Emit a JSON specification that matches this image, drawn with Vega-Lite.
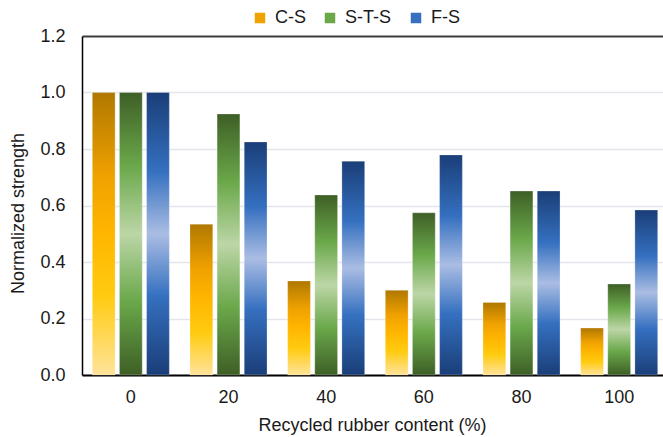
{
  "$schema": "https://vega.github.io/schema/vega-lite/v6.json",
  "autosize": {"type": "none"},
  "padding": {"left": 82, "top": 36, "right": 0, "bottom": 62},
  "width": 581,
  "height": 339,
  "background": "#ffffff",
  "config": {
    "font": "Liberation Sans",
    "view": {"stroke": null},
    "axis": {
      "labelFont": "Liberation Sans",
      "titleFont": "Liberation Sans",
      "labelFontSize": 18,
      "titleFontSize": 18,
      "labelColor": "#1a1a1a",
      "titleColor": "#1a1a1a",
      "titleFontWeight": "normal",
      "ticks": false,
      "tickSize": 0
    },
    "legend": {
      "labelFont": "Liberation Sans",
      "labelFontSize": 18,
      "labelColor": "#1a1a1a"
    }
  },
  "data": {
    "values": [
      {"content": 0, "series": "C-S", "strength": 1.0},
      {"content": 0, "series": "S-T-S", "strength": 1.0},
      {"content": 0, "series": "F-S", "strength": 1.0},
      {"content": 20, "series": "C-S", "strength": 0.534},
      {"content": 20, "series": "S-T-S", "strength": 0.924},
      {"content": 20, "series": "F-S", "strength": 0.825},
      {"content": 40, "series": "C-S", "strength": 0.333},
      {"content": 40, "series": "S-T-S", "strength": 0.637},
      {"content": 40, "series": "F-S", "strength": 0.757},
      {"content": 60, "series": "C-S", "strength": 0.300},
      {"content": 60, "series": "S-T-S", "strength": 0.574},
      {"content": 60, "series": "F-S", "strength": 0.779},
      {"content": 80, "series": "C-S", "strength": 0.257},
      {"content": 80, "series": "S-T-S", "strength": 0.651},
      {"content": 80, "series": "F-S", "strength": 0.651},
      {"content": 100, "series": "C-S", "strength": 0.166},
      {"content": 100, "series": "S-T-S", "strength": 0.322},
      {"content": 100, "series": "F-S", "strength": 0.584}
    ]
  },
  "encoding": {
    "x": {
      "field": "content",
      "type": "ordinal",
      "scale": {"range": [0, 586], "paddingInner": 0.2, "paddingOuter": 0.1},
      "axis": {
        "title": "Recycled rubber content (%)",
        "labelAngle": 0,
        "labelPadding": 13,
        "domainColor": "#000000",
        "domainWidth": 2,
        "titleBaseline": "alphabetic",
        "titleY": 55,
        "titleX": 290
      }
    },
    "xOffset": {
      "field": "series",
      "type": "nominal",
      "scale": {"domain": ["C-S", "S-T-S", "F-S"], "paddingInner": 0.16, "paddingOuter": 0.02}
    },
    "y": {
      "field": "strength",
      "type": "quantitative",
      "scale": {"domain": [0, 1.2], "nice": false},
      "axis": {
        "title": "Normalized strength",
        "values": [0, 0.2, 0.4, 0.6, 0.8, 1.0, 1.2],
        "format": ".1f",
        "labelPadding": 17,
        "domainColor": "#000000",
        "domainWidth": 1.5,
        "grid": true,
        "gridColor": {"condition": {"test": "datum.value > 1.19", "value": "#3c3c3c"}, "value": "#e3e5ea"},
        "gridWidth": {"condition": {"test": "datum.value > 1.19", "value": 2}, "value": 1.5},
        "titleAngle": -90,
        "titleAlign": "center",
        "titleBaseline": "alphabetic",
        "titleX": -59,
        "titleY": 177
      }
    }
  },
  "layer": [
    {
      "transform": [{"filter": "datum.series === 'C-S'"}],
      "mark": {
        "type": "bar",
        "stroke": "#ffffff", "strokeOpacity": 0.25, "strokeWidth": 1,
        "fill": {"gradient": "linear", "x1": 0, "y1": 0, "x2": 0, "y2": 1, "stops": [
          {"offset": 0, "color": "#b07800"},
          {"offset": 0.3, "color": "#f0a200"},
          {"offset": 0.5, "color": "#ffb600"},
          {"offset": 0.72, "color": "#ffcb10"},
          {"offset": 1, "color": "#ffe39a"}
        ]}
      }
    },
    {
      "transform": [{"filter": "datum.series === 'S-T-S'"}],
      "mark": {
        "type": "bar",
        "stroke": "#ffffff", "strokeOpacity": 0.25, "strokeWidth": 1,
        "fill": {"gradient": "linear", "x1": 0, "y1": 0, "x2": 0, "y2": 1, "stops": [
          {"offset": 0, "color": "#3e5f26"},
          {"offset": 0.26, "color": "#6aa84a"},
          {"offset": 0.5, "color": "#bcd6a6"},
          {"offset": 0.74, "color": "#6aa84a"},
          {"offset": 1, "color": "#3e5f26"}
        ]}
      }
    },
    {
      "transform": [{"filter": "datum.series === 'F-S'"}],
      "mark": {
        "type": "bar",
        "stroke": "#ffffff", "strokeOpacity": 0.25, "strokeWidth": 1,
        "fill": {"gradient": "linear", "x1": 0, "y1": 0, "x2": 0, "y2": 1, "stops": [
          {"offset": 0, "color": "#1a3e78"},
          {"offset": 0.28, "color": "#3570c0"},
          {"offset": 0.5, "color": "#aabde3"},
          {"offset": 0.72, "color": "#3570c0"},
          {"offset": 1, "color": "#1a3e78"}
        ]}
      }
    },
    {
      "transform": [{"filter": "false"}],
      "mark": {"type": "bar"},
      "encoding": {
        "color": {
          "field": "series",
          "type": "nominal",
          "scale": {"domain": ["C-S", "S-T-S", "F-S"], "range": ["#f0a200", "#6aa84a", "#3570c0"]},
          "legend": {
            "title": null,
            "orient": "none",
            "direction": "horizontal",
            "legendX": 169,
            "legendY": -27,
            "padding": 0,
            "symbolType": "square",
            "symbolSize": 110,
            "symbolStrokeWidth": 0,
            "labelOffset": 6,
            "columnPadding": 15,
            "encode": {
              "symbols": {
                "update": {
                  "fill": {"signal": "datum.value === 'C-S' ? {gradient: 'linear', x1: 0, y1: 0, x2: 1, y2: 1, stops: [{offset: 0, color: '#c08400'}, {offset: 0.5, color: '#ffb000'}, {offset: 1, color: '#ffd84a'}]} : datum.value === 'S-T-S' ? {gradient: 'radial', x1: 0.5, y1: 0.5, r1: 0, x2: 0.5, y2: 0.5, r2: 0.7, stops: [{offset: 0, color: '#a8cc8c'}, {offset: 1, color: '#4f8a33'}]} : {gradient: 'radial', x1: 0.5, y1: 0.5, r1: 0, x2: 0.5, y2: 0.5, r2: 0.7, stops: [{offset: 0, color: '#9ab4e4'}, {offset: 1, color: '#2a5ca8'}]}"}
                }
              }
            }
          }
        }
      }
    }
  ]
}
